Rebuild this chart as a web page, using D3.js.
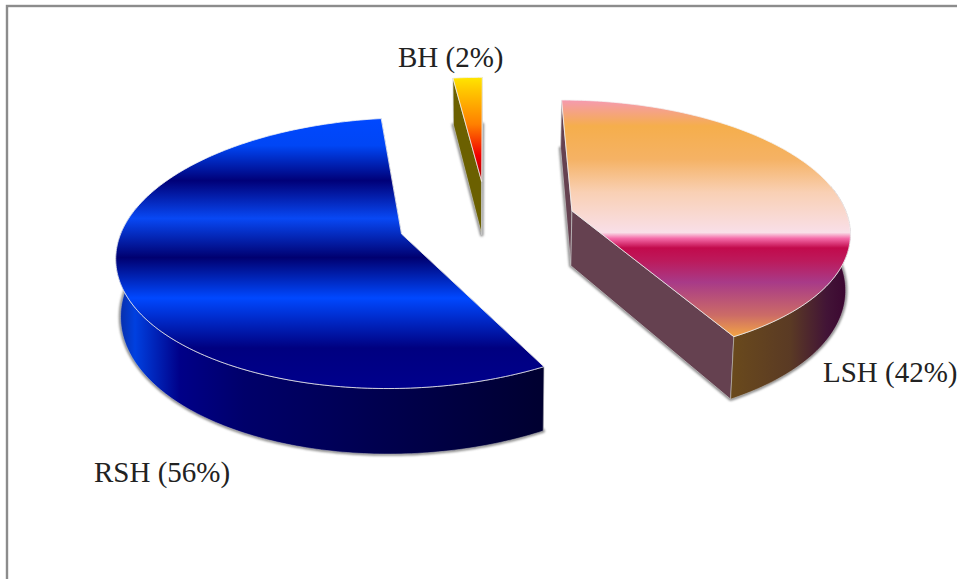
<!DOCTYPE html>
<html>
<head>
<meta charset="utf-8">
<script src="https://cdn.jsdelivr.net/npm/d3@7"></script>
<style>
  html, body { margin: 0; padding: 0; background: #fff; overflow: hidden; }
  text { font-family: "Liberation Serif", serif; font-size: 29px; fill: #222; }
</style>
</head>
<body>
<script>
// Shares of each region, clockwise from twelve o'clock.
const regions = ["LSH", "RSH", "BH"];
const shares = [42, 56, 2];

// Perspective view of the pie plane: unit disc -> screen pixels.
const view = { cx: 487, cy: 221, rx: 277, ry: 129, persp: 0.14, depth: 55.5, explode: 0.32, taper: 0.013 };

const width = 957, height = 579;
const svg = d3.select("body").append("svg").attr("width", width).attr("height", height);
const defs = svg.append("defs");

function addGradient(id, horizontal, stops) {
  const g = defs.append("linearGradient").attr("id", id)
    .attr("x1", 0).attr("y1", 0)
    .attr("x2", horizontal ? 1 : 0).attr("y2", horizontal ? 0 : 1);
  stops.forEach(([o, c]) => g.append("stop").attr("offset", o).attr("stop-color", c));
}

addGradient("top-LSH", false, [[0, "#f59ab0"], [.11, "#f5ae4c"], [.25, "#f5b264"], [.39, "#f9d0b4"],
  [.56, "#f9dfe8"], [.585, "#f46aa8"], [.625, "#c20a4c"], [.68, "#bc1a5c"], [.77, "#a83a88"],
  [.91, "#cc6c66"], [1, "#f3a544"]]);
addGradient("top-RSH", false, [[0, "#0048ff"], [.1, "#0046f5"], [.23, "#000078"], [.37, "#0848f4"],
  [.515, "#000070"], [.665, "#0048ff"], [.85, "#000080"], [1, "#00008c"]]);
addGradient("top-BH", false, [[0, "#ffe600"], [.12, "#ffc800"], [.45, "#ff8000"], [.75, "#f00000"], [1, "#a80000"]]);
addGradient("rim-LSH", true, [[0, "#6a4a1c"], [.5, "#5a3a24"], [.8, "#421436"], [1, "#3a0430"]]);
addGradient("rim-RSH", true, [[0, "#0a2a9c"], [.045, "#0040e0"], [.15, "#000088"], [.3, "#00006a"], [.6, "#000050"], [1, "#000030"]]);

const cutColor = { LSH: "#654150", RSH: "#000050", BH: "#6b6000" };

const blur = defs.append("filter").attr("id", "soft")
  .attr("x", "-20%").attr("y", "-20%").attr("width", "140%").attr("height", "140%");
blur.append("feGaussianBlur").attr("stdDeviation", 1.3);

// Panel frame: only its top and left edges fall inside the page.
svg.append("rect").attr("x", 7).attr("y", 6).attr("width", 1200).attr("height", 900)
  .attr("fill", "#fff").attr("stroke", "#8c8c8c").attr("stroke-width", 2.4);

const pie = d3.pie().sort(null).startAngle(0).endAngle(2 * Math.PI);
const slices = pie(shares).map((d, i) => ({ ...d, name: regions[i] }));

// Point of a slice on the plane, pushed along its bisector, then projected.
// lift = 1 gives the lower face of the pie, which sits slightly further away.
function project(slice, angle, radius, lift) {
  const mid = (slice.startAngle + slice.endAngle) / 2;
  const u = view.explode * Math.sin(mid) + radius * Math.sin(angle);
  const v = -view.explode * Math.cos(mid) - radius * Math.cos(angle);
  const w = 1 - view.persp * v;
  return [
    view.cx + (view.rx * u / w) * (1 - view.taper * lift),
    view.cy + view.ry * v / w + lift * view.depth / w
  ];
}

function arcPoints(slice, a0, a1, lift) {
  const n = Math.max(2, Math.ceil(Math.abs(a1 - a0) * 60));
  return d3.range(n + 1).map(i => project(slice, a0 + (a1 - a0) * i / n, 1, lift));
}

const line = d3.line();

function facePath(slice, lift) {
  return line([project(slice, 0, 0, lift), ...arcPoints(slice, slice.startAngle, slice.endAngle, lift)]) + "Z";
}

function cutWall(slice, angle) {
  return line([project(slice, 0, 0, 0), project(slice, angle, 1, 0), project(slice, angle, 1, 1), project(slice, 0, 0, 1)]) + "Z";
}

function rimPath(slice) {
  // Only the viewer-facing part of the outer wall is ever seen.
  const a0 = Math.max(slice.startAngle, Math.PI / 2 - 0.2);
  const a1 = Math.min(slice.endAngle, 3 * Math.PI / 2 + 0.2);
  if (a1 <= a0) return null;
  return line([...arcPoints(slice, a0, a1, 0), ...arcPoints(slice, a1, a0, 1)]) + "Z";
}

// Soft shadow cast round the lower face of each slice.
svg.append("g").attr("filter", "url(#soft)")
  .selectAll("path").data(slices).join("path")
  .attr("d", d => facePath(d, 1))
  .attr("fill", "#8f8f8f").attr("stroke", "#8f8f8f").attr("stroke-width", 3.5)
  .attr("stroke-linejoin", "round");

const sliceGroups = svg.selectAll("g.slice").data(slices).join("g").attr("class", "slice");

sliceGroups.each(function (d) {
  const g = d3.select(this);
  [d.startAngle, d.endAngle].forEach(a => {
    g.append("path").attr("d", cutWall(d, a)).attr("fill", cutColor[d.name])
      .attr("stroke", "#c8c8c8").attr("stroke-width", 0.7).attr("stroke-linejoin", "round");
  });
  const rim = rimPath(d);
  if (rim) {
    g.append("path").attr("d", rim).attr("fill", `url(#rim-${d.name})`)
      .attr("stroke", "#c8c8c8").attr("stroke-width", 0.5);
  }
  g.append("path").attr("d", facePath(d, 0)).attr("fill", `url(#top-${d.name})`)
    .attr("stroke", "#f4f4f4").attr("stroke-width", 0.8).attr("stroke-linejoin", "round");
});

// Category labels with their percentages.
const labelAnchors = { LSH: [823, 382], RSH: [94, 482], BH: [398, 67] };
svg.selectAll("text.label").data(slices).join("text").attr("class", "label")
  .attr("x", d => labelAnchors[d.name][0])
  .attr("y", d => labelAnchors[d.name][1])
  .text(d => `${d.name} (${d.data}%)`);
</script>
</body>
</html>
